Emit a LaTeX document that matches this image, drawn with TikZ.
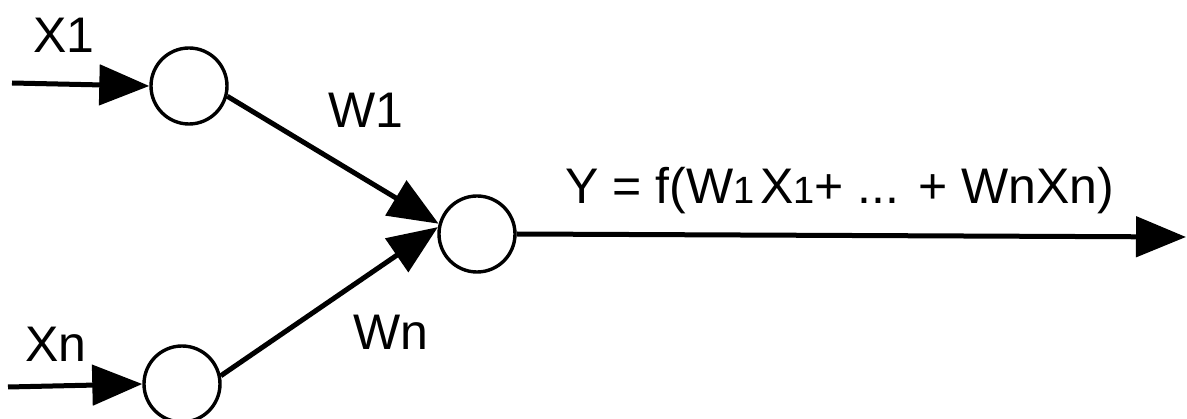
\documentclass[tikz,border=0pt]{standalone}
\usepackage{fontspec}
\setmainfont{Liberation Sans}
\usetikzlibrary{arrows.meta}
\begin{document}
\begin{tikzpicture}[x=1pt,y=-1pt,
  neuron/.style={circle,draw,line width=3.4pt,minimum size=76pt,inner sep=0pt},
  link/.style={line width=5pt,-{Triangle[length=50pt,width=40pt]}},
  lbl/.style={inner sep=0pt,anchor=base,font=\fontsize{50}{60}\selectfont}]
\useasboundingbox (0,0) rectangle (1187,419);
\node[neuron] (c1) at (189,86) {};
\node[neuron] (c2) at (182,384) {};
\node[neuron] (c3) at (477,234) {};
\coordinate (in1) at (12,83);
\coordinate (in2) at (8,387);
\coordinate (out) at (1186,237);
\draw[link] (in1) -- (c1.west);
\draw[link] (in2) -- (c2.west);
\draw[link] (c1.-15) -- (c3.165);
\draw[link] (c2.12) -- (c3.170);
\draw[link] (c3.east) -- (out);
\node[lbl] (x1) at (64,53) {X1};
\node[lbl] (xn) at (56,362) {Xn};
\node[lbl] (w1) at (366,128) {W1};
\node[lbl] (wn) at (391,350) {Wn};
\node[lbl,anchor=base west] (y) at (565,204) {Y = f(W{\fontsize{38}{40}\selectfont 1}\kern6pt X{\fontsize{38}{40}\selectfont 1}+ ... + WnXn)};
\end{tikzpicture}
\end{document}
